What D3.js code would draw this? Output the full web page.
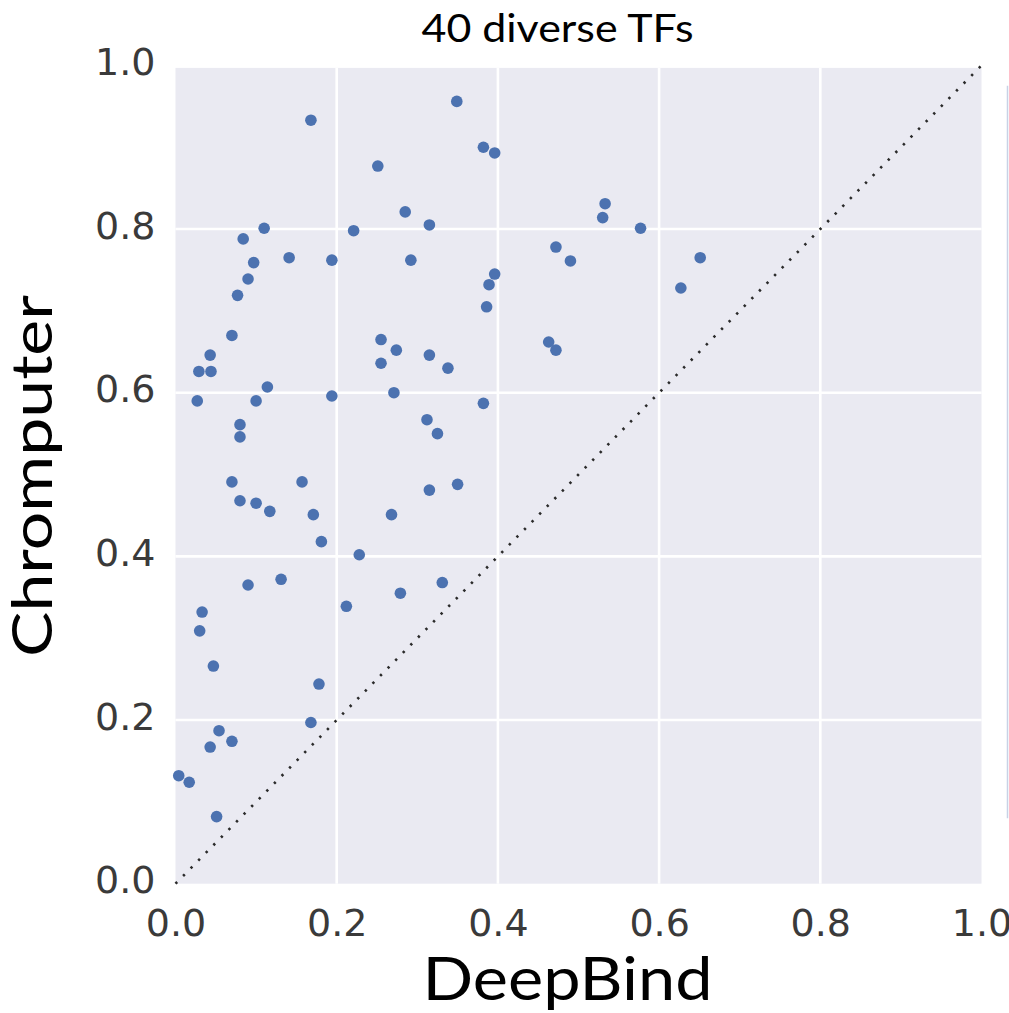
<!DOCTYPE html>
<html>
<head>
<meta charset="utf-8">
<script src="https://cdn.jsdelivr.net/npm/d3@7"></script>
<style>
  html, body { margin: 0; padding: 0; background: #ffffff; }
  svg { display: block; }
</style>
</head>
<body>
<svg id="chart" width="1009" height="1013"></svg>
<script>
// ---- data ----
const title = "40 diverse TFs";
const xLabel = "DeepBind";
const yLabel = "Chromputer";
const xTicks = [0.0, 0.2, 0.4, 0.6, 0.8, 1.0];
const yTicks = [0.0, 0.2, 0.4, 0.6, 0.8, 1.0];
const deepbind = [
  0.004, 0.017, 0.051, 0.043, 0.054, 0.070, 0.047, 0.030, 0.033, 0.090,
  0.131, 0.178, 0.168, 0.212, 0.228, 0.181, 0.171, 0.157, 0.117, 0.100,
  0.080, 0.070, 0.080, 0.080, 0.100, 0.114, 0.027, 0.029, 0.044, 0.043,
  0.070, 0.077, 0.090, 0.097, 0.084, 0.110, 0.141, 0.168, 0.194, 0.194,
  0.221, 0.251, 0.285, 0.292, 0.315, 0.255, 0.274, 0.255, 0.271, 0.315,
  0.338, 0.312, 0.325, 0.315, 0.350, 0.268, 0.331, 0.279, 0.349, 0.382,
  0.396, 0.396, 0.389, 0.386, 0.382, 0.463, 0.472, 0.472, 0.490, 0.533,
  0.530, 0.577, 0.627, 0.651
];
const chromputer = [
  0.132, 0.124, 0.082, 0.167, 0.187, 0.174, 0.266, 0.309, 0.332, 0.365,
  0.372, 0.244, 0.197, 0.339, 0.402, 0.418, 0.451, 0.491, 0.455, 0.465,
  0.468, 0.491, 0.546, 0.561, 0.590, 0.607, 0.590, 0.626, 0.626, 0.646,
  0.670, 0.719, 0.739, 0.759, 0.788, 0.801, 0.765, 0.933, 0.762, 0.596,
  0.798, 0.877, 0.821, 0.762, 0.805, 0.665, 0.652, 0.636, 0.600, 0.646,
  0.630, 0.567, 0.550, 0.481, 0.488, 0.451, 0.368, 0.355, 0.956, 0.900,
  0.893, 0.745, 0.732, 0.705, 0.587, 0.662, 0.652, 0.778, 0.761, 0.831,
  0.814, 0.801, 0.728, 0.765
];
const diagonal = [0, 1];

// ---- layout ----
const svg = d3.select("#chart");
const x = d3.scaleLinear().domain([0, 1]).range([175.5, 981.5]);
const y = d3.scaleLinear().domain([0, 1]).range([883.7, 65.4]);

// background
svg.append("rect")
  .attr("x", x(0)).attr("y", y(1) + 2.5)
  .attr("width", x(1) - x(0)).attr("height", y(0) - y(1) - 2.5)
  .attr("fill", "#EAEAF2");

// grid
const grid = svg.append("g");
grid.selectAll("line.vx").data(xTicks.slice(1, -1)).join("line")
  .attr("x1", d => x(d)).attr("x2", d => x(d))
  .attr("y1", y(1) + 2.5).attr("y2", y(0))
  .attr("stroke", "#ffffff").attr("stroke-width", 2.6);
grid.selectAll("line.hy").data(yTicks.slice(1, -1)).join("line")
  .attr("y1", d => y(d)).attr("y2", d => y(d))
  .attr("x1", x(0)).attr("x2", x(1))
  .attr("stroke", "#ffffff").attr("stroke-width", 2.6);

// axes (tick labels only)
const xAxis = d3.axisBottom(x).tickValues(xTicks).tickFormat(d3.format(".1f")).tickSize(0).tickPadding(0);
const yAxis = d3.axisLeft(y).tickValues(yTicks).tickFormat(d3.format(".1f")).tickSize(0).tickPadding(0);

const gx = svg.append("g").attr("transform", `translate(0,${y(0)})`).call(xAxis);
gx.select(".domain").remove();
gx.selectAll("text")
  .attr("y", 52).attr("dy", null)
  .attr("font-family", "DejaVu Sans").attr("font-size", 38).attr("fill", "#3a3a3a");

const gy = svg.append("g").attr("transform", `translate(${x(0)},0)`).call(yAxis);
gy.select(".domain").remove();
gy.selectAll("text")
  .attr("x", -20).attr("dy", "0.32em").attr("y", -3)
  .attr("font-family", "DejaVu Sans").attr("font-size", 38).attr("fill", "#3a3a3a");

// diagonal dotted line
svg.append("line")
  .attr("x1", x(diagonal[0])).attr("y1", y(diagonal[0]))
  .attr("x2", x(diagonal[1])).attr("y2", y(diagonal[1]))
  .attr("stroke", "#2a2a2a").attr("stroke-width", 2.6)
  .attr("stroke-dasharray", "2.4,8.4");

// points
const pts = deepbind.map((d, i) => ({ x: d, y: chromputer[i] }));
svg.append("g").selectAll("circle").data(pts).join("circle")
  .attr("cx", d => x(d.x)).attr("cy", d => y(d.y))
  .attr("r", 5.8)
  .attr("fill", "#4C72B0");

// faint edge line on the right (cropped colorbar edge)
svg.append("line")
  .attr("x1", 1007.5).attr("x2", 1007.5)
  .attr("y1", y(0.975)).attr("y2", y(0.08))
  .attr("stroke", "#c8d2e6").attr("stroke-width", 1.5);

// title and axis labels
svg.append("text")
  .attr("x", 557.5).attr("y", 41.7)
  .attr("text-anchor", "middle")
  .attr("font-family", "Lato").attr("font-size", 39)
  .attr("textLength", 272).attr("lengthAdjust", "spacingAndGlyphs")
  .attr("fill", "#000").text(title);

svg.append("text")
  .attr("x", 567.5).attr("y", 1000)
  .attr("text-anchor", "middle")
  .attr("font-family", "Lato").attr("font-size", 60)
  .attr("textLength", 290).attr("lengthAdjust", "spacingAndGlyphs")
  .attr("fill", "#000").text(xLabel);

svg.append("text")
  .attr("transform", "translate(52,476) rotate(-90)")
  .attr("text-anchor", "middle")
  .attr("font-family", "Lato").attr("font-size", 56)
  .attr("textLength", 362).attr("lengthAdjust", "spacingAndGlyphs")
  .attr("fill", "#000").text(yLabel);
</script>
</body>
</html>
